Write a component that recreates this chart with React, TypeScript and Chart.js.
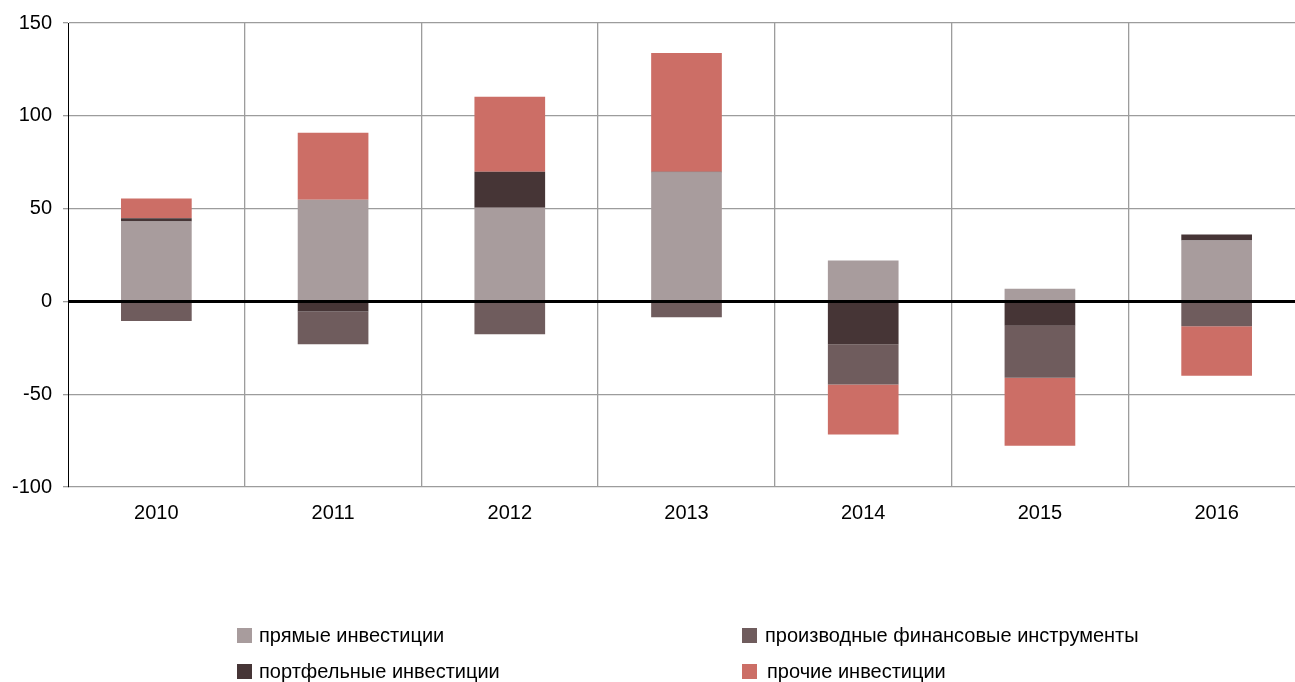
import React, { useEffect, useRef } from "react";
import { Chart, registerables } from "chart.js";

Chart.register(...registerables);

const categories = ["2010", "2011", "2012", "2013", "2014", "2015", "2016"];
const directInv = [43, 54.8, 50.5, 69.4, 22, 6.8, 32.8];
const portfolioInv = [1.8, -5.4, 19.4, 0.5, -23.1, -13.1, 3.2];
const derivatives = [-10.6, -17.7, -17.7, -8.6, -21.7, -28.1, -13.4];
const otherInv = [10.7, 36.1, 40.3, 63.9, -26.9, -36.6, -26.6];
const yTicks = [-100, -50, 0, 50, 100, 150];

const seriesNames = [
  "прямые инвестиции",
  "портфельные инвестиции",
  "производные финансовые инструменты",
  "прочие инвестиции",
];
const colors = ["#A89C9D", "#463536", "#6F5C5D", "#CC6E66"];

const FONT = "'Liberation Sans', Arial, sans-serif";
const GRID = "#9C9C9C";

const zeroLine = {
  id: "zeroLine",
  afterDatasetsDraw(chart: any) {
    const { ctx, chartArea, scales } = chart;
    const y = scales.y.getPixelForValue(0);
    ctx.save();
    ctx.strokeStyle = "#000";
    ctx.lineWidth = 3;
    ctx.beginPath();
    ctx.moveTo(chartArea.left, y);
    ctx.lineTo(chartArea.right, y);
    ctx.stroke();
    ctx.restore();
  },
};

export default function App() {
  const ref = useRef<HTMLCanvasElement>(null);
  useEffect(() => {
    if (!ref.current) return;
    const values = [directInv, portfolioInv, derivatives, otherInv];
    const chart = new Chart(ref.current, {
      type: "bar",
      data: {
        labels: categories,
        datasets: values.map((v, i) => ({
          label: seriesNames[i],
          data: v,
          backgroundColor: colors[i],
          borderWidth: 0,
          categoryPercentage: 1,
          barPercentage: 0.4,
        })),
      },
      options: {
        animation: false,
        responsive: true,
        maintainAspectRatio: false,
        layout: { padding: { top: 22, left: 0, right: 0, bottom: 155 } },
        plugins: { legend: { display: false }, tooltip: { enabled: false } },
        scales: {
          x: {
            stacked: true,
            offset: true,
            grid: {
              offset: true,
              drawTicks: false,
              color: (c: any) => (c.index === 0 ? "rgba(0,0,0,0)" : GRID),
              lineWidth: 1.3,
            },
            border: { display: false },
            ticks: { color: "#000", font: { family: FONT, size: 20 }, padding: 14 },
            afterFit: (s: any) => {
              s.height = 40;
            },
          },
          y: {
            stacked: true,
            min: -100,
            max: 150,
            afterBuildTicks: (s: any) => {
              s.ticks = yTicks.map((v) => ({ value: v }));
            },
            grid: { color: GRID, lineWidth: 1.3, tickColor: GRID, tickLength: 5, tickWidth: 1.3 },
            border: { display: true, color: "#000", width: 1 },
            ticks: { color: "#000", font: { family: FONT, size: 20 }, padding: 11 },
            afterFit: (s: any) => {
              s.width = 68;
            },
          },
        },
      },
      plugins: [zeroLine],
    });
    return () => chart.destroy();
  }, []);

  const legendItems = [
    { i: 0, sx: 237, sy: 628, tx: 259, ty: 625 },
    { i: 2, sx: 742, sy: 628, tx: 765, ty: 625 },
    { i: 1, sx: 237, sy: 664, tx: 259, ty: 661 },
    { i: 3, sx: 742, sy: 664, tx: 767, ty: 661 },
  ];

  return (
    <div style={{ position: "fixed", left: 0, top: 0, width: 1295, height: 682, overflow: "hidden", background: "#fff" }}>
      <div style={{ position: "absolute", left: 0, top: 0, width: 1305, height: 682 }}>
        <canvas ref={ref} />
      </div>
      {legendItems.map((it) => (
        <React.Fragment key={it.i}>
          <div
            style={{
              position: "absolute",
              left: it.sx,
              top: it.sy,
              width: 15,
              height: 15,
              background: colors[it.i],
            }}
          />
          <div
            style={{
              position: "absolute",
              left: it.tx,
              top: it.ty,
              fontFamily: FONT,
              fontSize: 20,
              lineHeight: "20px",
              color: "#000",
              whiteSpace: "nowrap",
            }}
          >
            {seriesNames[it.i]}
          </div>
        </React.Fragment>
      ))}
    </div>
  );
}
